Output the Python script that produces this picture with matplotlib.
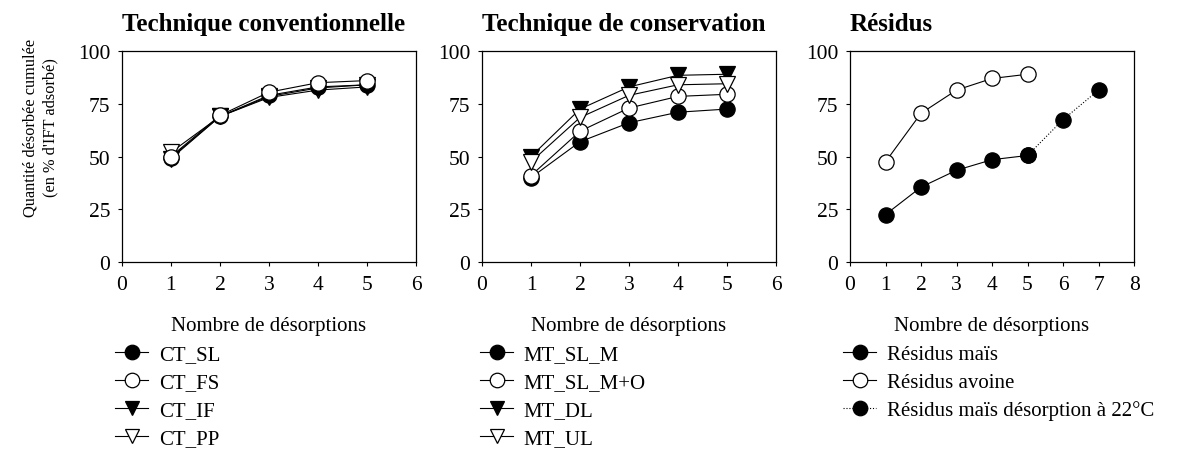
import matplotlib.pyplot as plt

plt.rcParams['font.family'] = ['Liberation Serif', 'DejaVu Serif']

# Technique conventionnelle
x_ct = [1, 2, 3, 4, 5]
ct_sl = [49.5, 69, 79, 83, 84]
ct_fs = [50, 69.5, 80.5, 85, 86]
ct_if = [49, 69, 78.5, 82.5, 84]
ct_pp = [52, 69, 78, 81.5, 83]

# Technique de conservation
x_mt = [1, 2, 3, 4, 5]
mt_sl_m = [40, 57, 66, 71, 72.5]
mt_sl_mo = [41, 62, 73, 78.5, 79.5]
mt_dl = [50, 72.5, 83, 88.5, 89]
mt_ul = [47.5, 68.5, 79, 84, 84.5]

# Résidus
x_res = [1, 2, 3, 4, 5]
res_mais = [22.5, 35.5, 43.5, 48.5, 50.5]
res_avoine = [47.5, 70.5, 81.5, 87, 89]
x_res22 = [5, 6, 7]
res_mais22 = [50.5, 67.5, 81.5]

fig = plt.figure(figsize=(11.91, 4.77), dpi=100)
ax1 = fig.add_axes([0.1024, 0.4486, 0.2469, 0.4423])
ax2 = fig.add_axes([0.4047, 0.4486, 0.2469, 0.4423])
ax3 = fig.add_axes([0.7137, 0.4486, 0.2385, 0.4423])

ms = 11
lw = 0.8


def style(ax, xmax, title):
    ax.set_xlim(0, xmax)
    ax.set_ylim(0, 100)
    ax.set_xticks(range(0, xmax + 1))
    ax.set_yticks([0, 25, 50, 75, 100])
    ax.tick_params(direction='out', length=3, width=0.8, labelsize=15.5)
    ax.tick_params(axis='x', pad=6.5)
    ax.tick_params(axis='y', pad=5.5)
    for s in ax.spines.values():
        s.set_linewidth(0.9)
    ax.set_title(title, loc='left', fontsize=18, fontweight='bold', pad=15)
    ax.set_xlabel('Nombre de désorptions', fontsize=15, labelpad=16)


def plot(ax, x, y, marker, filled, label, ls='-'):
    ax.plot(x, y, color='black', linestyle=ls, linewidth=lw, marker=marker,
            markersize=ms, markerfacecolor='black' if filled else 'white',
            markeredgecolor='black', markeredgewidth=0.9, label=label)


plot(ax1, x_ct, ct_pp, 'v', False, 'CT_PP')
plot(ax1, x_ct, ct_if, 'v', True, 'CT_IF')
plot(ax1, x_ct, ct_sl, 'o', True, 'CT_SL')
plot(ax1, x_ct, ct_fs, 'o', False, 'CT_FS')
style(ax1, 6, 'Technique conventionnelle')

plot(ax2, x_mt, mt_sl_m, 'o', True, 'MT_SL_M')
plot(ax2, x_mt, mt_sl_mo, 'o', False, 'MT_SL_M+O')
plot(ax2, x_mt, mt_dl, 'v', True, 'MT_DL')
plot(ax2, x_mt, mt_ul, 'v', False, 'MT_UL')
style(ax2, 6, 'Technique de conservation')

plot(ax3, x_res22, res_mais22, 'o', True, 'Résidus maïs désorption à 22°C', ls=':')
plot(ax3, x_res, res_mais, 'o', True, 'Résidus maïs')
plot(ax3, x_res, res_avoine, 'o', False, 'Résidus avoine')
style(ax3, 8, 'Résidus')

fig.text(0.034, 0.732, 'Quantité désorbée cumulée\n(en % d\'IFT adsorbé)',
         rotation=90, ha='center', va='center', fontsize=11.8,
         multialignment='center', linespacing=1.3)


def legend(ax, order, x0):
    h, l = ax.get_legend_handles_labels()
    d = dict(zip(l, h))
    ax.legend([d[k] for k in order], order, loc='upper left',
              bbox_to_anchor=(x0, -0.391), frameon=False, fontsize=15,
              handlelength=1.6, handletextpad=0.5, labelspacing=0.4,
              borderaxespad=0, borderpad=0, markerscale=0.95)


legend(ax1, ['CT_SL', 'CT_FS', 'CT_IF', 'CT_PP'], -0.024)
legend(ax2, ['MT_SL_M', 'MT_SL_M+O', 'MT_DL', 'MT_UL'], -0.007)
legend(ax3, ['Résidus maïs', 'Résidus avoine', 'Résidus maïs désorption à 22°C'], -0.025)

fig.savefig('out.png', dpi=100)
